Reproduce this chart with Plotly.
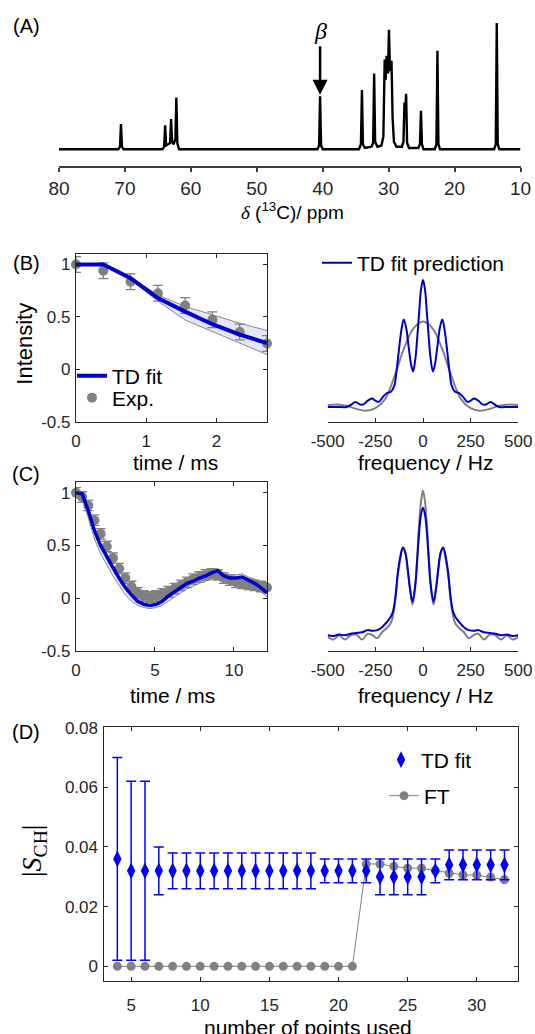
import plotly.graph_objects as go

W, H = 535, 1034
FONT = "Liberation Sans"
SERIF = "Liberation Serif"
BLUE = "#0000cc"
GRAY = "#808080"
AX = "#262626"

# ---------------- Panel A : 13C spectrum (vertices)
specA_ppm = [80, 71.0, 70.75, 70.6, 70.45, 70.2, 64.3, 64.05, 63.9, 63.75, 63.15, 63.0, 62.85, 62.6,
             62.35, 62.2, 62.05, 61.8, 40.8, 40.55, 40.4, 40.25, 40.0, 34.5, 34.2, 34.05, 33.9, 33.6,
             32.6, 32.35, 32.2, 32.05, 31.7, 31.1, 30.8, 30.6, 30.45, 30.3, 30.1, 29.95, 29.8, 29.57,
             29.4, 29.2, 28.8, 28.0, 27.75, 27.6, 27.5, 27.35, 27.2, 26.9, 25.5, 25.25, 25.1, 24.95,
             24.7, 23.0, 22.75, 22.6, 22.45, 22.2, 14.0, 13.75, 13.6, 13.45, 13.2, 10]
specA_int = [0, 0, 0.02, 0.20, 0.02, 0, 0, 0.02, 0.19, 0.03, 0.05, 0.24, 0.06, 0.04,
             0.08, 0.41, 0.05, 0, 0, 0.03, 0.42, 0.03, 0, 0, 0.04, 0.47, 0.04, 0.01,
             0.02, 0.05, 0.60, 0.06, 0.02, 0.03, 0.10, 0.71, 0.55, 0.74, 0.60, 0.947, 0.62, 0.70,
             0.25, 0.06, 0.02, 0.02, 0.06, 0.37, 0.25, 0.44, 0.05, 0.01, 0.01, 0.04, 0.305, 0.04,
             0, 0, 0.04, 0.78, 0.04, 0, 0, 0.04, 1.0, 0.04, 0, 0]
beta_ppm = 40.4
beta_tip = 0.432
beta_label_y = 0.934
A_ticks = [80, 70, 60, 50, 40, 30, 20, 10]

# ---------------- Panel B : short acquisition
tB = [0, 0.389, 0.777, 1.166, 1.554, 1.943, 2.331, 2.72]
expB = [1.0, 0.94, 0.836, 0.726, 0.609, 0.473, 0.356, 0.246]
errB = [0.075] * 8
fitB = [1.0, 1.0, 0.87, 0.68, 0.55, 0.43, 0.33, 0.25]
bandB_hi = [1.0, 1.0, 0.88, 0.71, 0.60, 0.52, 0.44, 0.37]
bandB_lo = [1.0, 0.99, 0.855, 0.65, 0.47, 0.36, 0.25, 0.14]

freqB = [-500, -450, -400, -375, -355, -330, -312, -290, -268, -250, -233, -210, -189, -168, -150,
         -140, -127, -114, -101, -88, -75, -62, -52, -40, -30, -20, -10, 0,
         10, 20, 30, 40, 52, 62, 75, 88, 101, 114, 127, 140, 150, 168, 189, 210, 233, 250, 268,
         290, 312, 330, 355, 375, 400, 450, 500]
blueB = [0.0, 0.0, 0.0, 0.02, 0.04, 0.02, 0.02, 0.05, 0.066, 0.05, 0.04, 0.08, 0.11, 0.12, 0.17,
         0.27, 0.44, 0.60, 0.69, 0.62, 0.47, 0.33, 0.28, 0.38, 0.55, 0.75, 0.93, 1.0,
         0.93, 0.75, 0.55, 0.38, 0.28, 0.33, 0.47, 0.62, 0.69, 0.60, 0.44, 0.27, 0.17, 0.12, 0.11,
         0.08, 0.04, 0.05, 0.066, 0.05, 0.02, 0.02, 0.04, 0.02, 0.0, 0.0, 0.0]
freqB_ft = [-500, -450, -400, -350, -300, -250, -200, -150, -100, -50, 0, 50, 100, 150, 200, 250,
            300, 350, 400, 450, 500]
grayB = [0.015, 0.02, 0.01, -0.015, -0.03, -0.01, 0.06, 0.24, 0.46, 0.62, 0.673, 0.62, 0.46, 0.24,
         0.06, -0.01, -0.03, -0.015, 0.01, 0.02, 0.015]

# ---------------- Panel C : full acquisition
tC = [round(0.39 * k, 3) for k in range(32)]
expC = [1.0, 0.96, 0.88, 0.74, 0.61, 0.49, 0.38, 0.28, 0.19, 0.11, 0.05, 0.02, 0.01, 0.02, 0.04,
        0.06, 0.09, 0.12, 0.15, 0.18, 0.20, 0.22, 0.23, 0.22, 0.19, 0.17, 0.15, 0.14, 0.13, 0.12,
        0.11, 0.10]
errC = [0.05] * 32
fitC = [1.0, 0.99, 0.83, 0.64, 0.50, 0.39, 0.29, 0.19, 0.10, 0.03, -0.03, -0.06, -0.07, -0.06,
        -0.03, 0.02, 0.06, 0.10, 0.14, 0.16, 0.19, 0.21, 0.24, 0.26, 0.21, 0.19, 0.19, 0.20, 0.17,
        0.14, 0.10, 0.05]
bandC_hi = [1.0, 1.0, 0.85, 0.66, 0.52, 0.41, 0.31, 0.21, 0.12, 0.05, 0.0, -0.03, -0.04, -0.03,
            0.01, 0.06, 0.10, 0.14, 0.18, 0.20, 0.23, 0.25, 0.27, 0.28, 0.24, 0.22, 0.22, 0.23, 0.20,
            0.18, 0.15, 0.10]
bandC_lo = [0.99, 0.97, 0.76, 0.56, 0.42, 0.31, 0.21, 0.12, 0.03, -0.03, -0.07, -0.09, -0.10,
            -0.09, -0.07, -0.03, 0.01, 0.05, 0.09, 0.11, 0.14, 0.16, 0.19, 0.21, 0.17, 0.15, 0.15,
            0.16, 0.13, 0.10, 0.06, 0.01]

freqC = [-500, -470, -440, -410, -380, -350, -320, -290, -265, -240, -215, -190, -170, -158, -145,
         -132, -119, -106, -93, -80, -68, -55, -40, -30, -20, -10, 0, 10, 20, 30, 40, 55, 68, 80,
         93, 106, 119, 132, 145, 158, 170, 190, 215, 240, 265, 290, 320, 350, 380, 410, 440, 470, 500]
blueC = [0.01, 0.005, 0.015, 0.01, 0.02, 0.025, 0.03, 0.045, 0.04, 0.045, 0.065, 0.10, 0.135, 0.17,
         0.27, 0.44, 0.55, 0.612, 0.58, 0.46, 0.33, 0.24, 0.36, 0.53, 0.72, 0.84, 0.884, 0.84, 0.72,
         0.53, 0.36, 0.24, 0.33, 0.46, 0.58, 0.612, 0.55, 0.44, 0.27, 0.17, 0.135, 0.10, 0.065,
         0.045, 0.04, 0.045, 0.03, 0.025, 0.02, 0.01, 0.015, 0.005, 0.01]
grayC = [0.0, -0.02, 0.01, -0.02, 0.01, 0.015, -0.02, 0.02, 0.01, -0.01, 0.03, 0.06, 0.09, 0.14,
         0.25, 0.42, 0.53, 0.60, 0.57, 0.46, 0.32, 0.22, 0.36, 0.56, 0.78, 0.93, 1.0, 0.93, 0.78,
         0.56, 0.36, 0.22, 0.32, 0.46, 0.57, 0.60, 0.53, 0.42, 0.25, 0.14, 0.09, 0.06, 0.03, -0.01,
         0.01, 0.02, -0.02, 0.015, 0.01, -0.02, 0.01, -0.02, 0.0]

# ---------------- Panel D : order parameter vs number of points
nD = list(range(4, 33))
tdD = [0.036, 0.032, 0.032, 0.032] + [0.032] * 11 + [0.032] * 3 + [0.032] + [0.030] * 4 + [0.032] + [0.034] * 5
tdErr = [0.034, 0.030, 0.030, 0.008] + [0.006] * 11 + [0.004] * 3 + [0.004] + [0.006] * 4 + [0.004] + [0.005] * 5
ftD = [0.0] * 18 + [0.0343, 0.0343, 0.0335, 0.0329, 0.0329, 0.0321, 0.0312, 0.0306, 0.0306, 0.0299, 0.0290]


def px2x(p):
    return p / W


def px2y(p):
    return 1 - p / H


fig = go.Figure()

# A
fig.add_trace(go.Scatter(x=specA_ppm, y=specA_int, mode="lines", line=dict(color="black", width=2.4),
                         xaxis="x", yaxis="y", showlegend=False))

# B left
fig.add_trace(go.Scatter(x=tB, y=bandB_lo, mode="lines", line=dict(color="#404040", width=0.6),
                         xaxis="x2", yaxis="y2", showlegend=False))
fig.add_trace(go.Scatter(x=tB, y=bandB_hi, mode="lines", line=dict(color="#404040", width=0.6),
                         fill="tonexty", fillcolor="rgba(205,205,245,0.55)",
                         xaxis="x2", yaxis="y2", showlegend=False))
fig.add_trace(go.Scatter(x=tB, y=expB, mode="markers", name="Exp.",
                         marker=dict(color=GRAY, size=10),
                         error_y=dict(type="data", array=errB, color=GRAY, thickness=1.3, width=5),
                         cliponaxis=False, xaxis="x2", yaxis="y2", legend="legend2"))
fig.add_trace(go.Scatter(x=tB, y=fitB, mode="lines", name="TD fit", line=dict(color=BLUE, width=4),
                         cliponaxis=False, xaxis="x2", yaxis="y2", legend="legend"))

# B right
fig.add_trace(go.Scatter(x=freqB_ft, y=grayB, mode="lines", line=dict(color=GRAY, width=2, shape="spline"),
                         xaxis="x3", yaxis="y3", showlegend=False))
fig.add_trace(go.Scatter(x=freqB, y=blueB, mode="lines", name="TD fit prediction",
                         line=dict(color=BLUE, width=2, shape="spline"),
                         xaxis="x3", yaxis="y3", legend="legend3"))

# C left
fig.add_trace(go.Scatter(x=tC, y=bandC_lo, mode="lines", line=dict(color="#404040", width=0.6),
                         xaxis="x4", yaxis="y4", showlegend=False))
fig.add_trace(go.Scatter(x=tC, y=bandC_hi, mode="lines", line=dict(color="#404040", width=0.6),
                         fill="tonexty", fillcolor="rgba(205,205,245,0.55)",
                         xaxis="x4", yaxis="y4", showlegend=False))
fig.add_trace(go.Scatter(x=tC, y=expC, mode="markers", marker=dict(color=GRAY, size=10),
                         error_y=dict(type="data", array=errC, color=GRAY, thickness=1.3, width=5),
                         cliponaxis=False, xaxis="x4", yaxis="y4", showlegend=False))
fig.add_trace(go.Scatter(x=tC, y=fitC, mode="lines", line=dict(color=BLUE, width=3.5),
                         cliponaxis=False, xaxis="x4", yaxis="y4", showlegend=False))

# C right
fig.add_trace(go.Scatter(x=freqC, y=grayC, mode="lines", line=dict(color=GRAY, width=2, shape="spline"),
                         xaxis="x5", yaxis="y5", showlegend=False))
fig.add_trace(go.Scatter(x=freqC, y=blueC, mode="lines", line=dict(color=BLUE, width=2, shape="spline"),
                         xaxis="x5", yaxis="y5", showlegend=False))

# D
fig.add_trace(go.Scatter(x=nD, y=ftD, mode="lines+markers", name="FT",
                         line=dict(color=GRAY, width=1), marker=dict(color=GRAY, size=9),
                         cliponaxis=False, xaxis="x6", yaxis="y6", legend="legend5"))
fig.add_trace(go.Scatter(x=nD, y=tdD, mode="markers", name="TD fit",
                         marker=dict(color="#0000ff", size=12, symbol="diamond-tall"),
                         error_y=dict(type="data", array=tdErr, color="#0000ff", thickness=1.5, width=5),
                         cliponaxis=False, xaxis="x6", yaxis="y6", legend="legend4"))

tickfont = dict(family=FONT, size=17, color="#262626")


def box_axes(xdom, ydom, xr, yr, xt, yt, xtt, ytt, xstand=4):
    xa = dict(domain=xdom, range=xr, showline=True, linecolor=AX, linewidth=1.2, mirror="ticks",
              ticks="inside", ticklen=4, tickcolor=AX, tickvals=xt, ticktext=xtt, tickfont=tickfont,
              showgrid=False, zeroline=False, automargin=False, ticklabelstandoff=xstand)
    ya = dict(domain=ydom, range=yr, showline=True, linecolor=AX, linewidth=1.2, mirror="ticks",
              ticks="inside", ticklen=4, tickcolor=AX, tickvals=yt, ticktext=ytt, tickfont=tickfont,
              showgrid=False, zeroline=False, automargin=False, ticklabelstandoff=1)
    return xa, ya


def spec_axes(xdom, ydom, yr):
    xa = dict(domain=xdom, range=[-500, 500], showline=True, linecolor=AX, linewidth=1.2,
              ticks="inside", ticklen=4, tickcolor=AX, tickvals=[-500, -250, 0, 250, 500],
              ticktext=["-500", "-250", "0", "250", "500"], tickfont=tickfont, showgrid=False,
              zeroline=False, automargin=False, ticklabelstandoff=4)
    ya = dict(domain=ydom, range=yr, visible=False, automargin=False)
    return xa, ya


yB = [px2y(421.7), px2y(254)]
yC = [px2y(650.7), px2y(482.3)]
xL = [px2x(76), px2x(267)]
xR = [px2x(327.7), px2x(518.3)]

xa2, ya2 = box_axes(xL, yB, [0, 2.72], [-0.5, 1.1], [0, 1, 2], [-0.5, 0, 0.5, 1],
                    ["0", "1", "2"], ["-0.5", "0", "0.5", "1"])
xa3, ya3 = spec_axes(xR, yB, [-0.116, 1.205])
xa4, ya4 = box_axes(xL, yC, [0, 12.09], [-0.5, 1.1], [0, 5, 10], [-0.5, 0, 0.5, 1],
                    ["0", "5", "10"], ["-0.5", "0", "0.5", "1"])
xa5, ya5 = spec_axes(xR, yC, [-0.096, 1.058])
xa6, ya6 = box_axes([px2x(103.5), px2x(518.3)], [px2y(981.4), px2y(727)], [3, 33], [-0.00505, 0.0802],
                    [5, 10, 15, 20, 25, 30], [0, 0.02, 0.04, 0.06, 0.08],
                    ["5", "10", "15", "20", "25", "30"], ["0", "0.02", "0.04", "0.06", "0.08"],
                    xstand=8)

xa1 = dict(domain=[px2x(59), px2x(520.5)], range=[80, 10], showline=True, linecolor="#404040",
           linewidth=2, ticks="outside", ticklen=4, tickwidth=2, tickcolor="#404040",
           tickvals=A_ticks, ticktext=[str(v) for v in A_ticks],
           tickfont=dict(family=FONT, size=19, color="#262626"), showgrid=False, zeroline=False,
           anchor="y", automargin=False)
ya1 = dict(domain=[px2y(166), px2y(10)], range=[-0.1325, 1.103], visible=False, automargin=False)

leg_common = dict(bgcolor="rgba(0,0,0,0)", font=dict(family=FONT, size=21, color="black"),
                  xanchor="left", yanchor="middle", itemwidth=30, tracegroupgap=0)

annos = []


def txt(x, y, s, size=21, **kw):
    d = dict(x=px2x(x), y=px2y(y), xref="paper", yref="paper", text=s, showarrow=False,
             font=dict(family=FONT, size=size, color="black"), xanchor="center", yanchor="middle")
    d.update(kw)
    annos.append(d)


txt(26, 25.5, "(A)", 20)
txt(26, 263, "(B)", 20)
txt(26, 474, "(C)", 20)
txt(26, 731.5, "(D)", 20)
txt(292, 211, '<span style="font-family:Liberation Serif"><i>δ</i></span> (<sup>13</sup>C)/ ppm', 19)
txt(175, 462, "time / ms")
txt(425, 462, "frequency / Hz")
txt(172, 695, "time / ms")
txt(425, 695, "frequency / Hz")
txt(308, 1027, "number of points used")
txt(25, 343.7, "Intensity", 22, textangle=-90)
txt(33, 851, "|<i>S</i><sub>CH</sub>|", 28, textangle=-90,
    font=dict(family=SERIF, size=28, color="black"))

annos.append(dict(x=beta_ppm, y=beta_tip, xref="x", yref="y", ax=0, ay=-50, text="",
                  showarrow=True, arrowhead=2, arrowsize=1.2, arrowwidth=2.5, arrowcolor="black",
                  standoff=0))
annos.append(dict(x=beta_ppm, y=beta_label_y, xref="x", yref="y", text="<i>β</i>", showarrow=False,
                  font=dict(family=SERIF, size=24, color="black")))

fig.update_layout(
    width=W, height=H, autosize=False, margin=dict(l=0, r=0, t=0, b=0),
    paper_bgcolor="white", plot_bgcolor="rgba(0,0,0,0)",
    xaxis=xa1, yaxis=ya1,
    xaxis2=dict(xa2, anchor="y2"), yaxis2=dict(ya2, anchor="x2"),
    xaxis3=dict(xa3, anchor="y3"), yaxis3=dict(ya3, anchor="x3"),
    xaxis4=dict(xa4, anchor="y4"), yaxis4=dict(ya4, anchor="x4"),
    xaxis5=dict(xa5, anchor="y5"), yaxis5=dict(ya5, anchor="x5"),
    xaxis6=dict(xa6, anchor="y6"), yaxis6=dict(ya6, anchor="x6"),
    legend=dict(leg_common, x=px2x(72), y=px2y(376)),
    legend2=dict(leg_common, x=px2x(72), y=px2y(398)),
    legend3=dict(leg_common, x=px2x(317), y=px2y(263)),
    legend4=dict(leg_common, x=px2x(381), y=px2y(760)),
    legend5=dict(leg_common, x=px2x(384), y=px2y(796)),
    annotations=annos,
    showlegend=True,
)

fig.write_html("out.html", config={"displayModeBar": False},
               post_script="document.body.style.margin='0';document.body.style.overflow='hidden';")
